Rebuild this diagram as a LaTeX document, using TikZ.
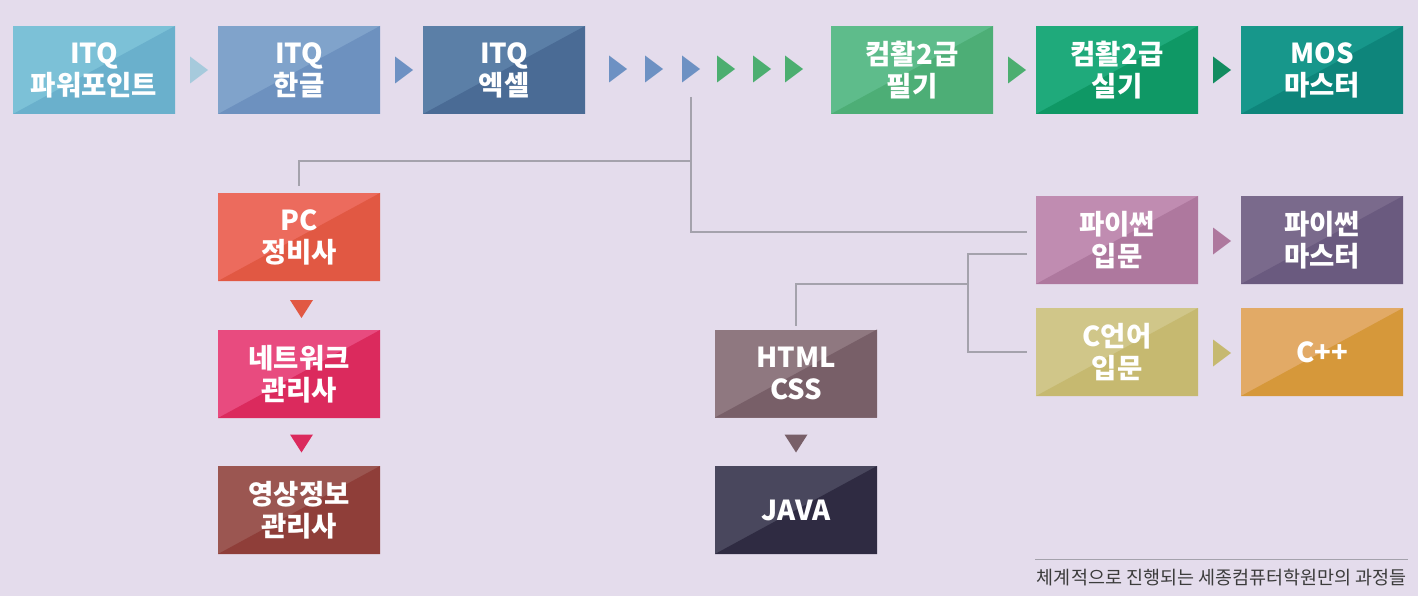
\documentclass[tikz,border=0pt]{standalone}
\usepackage{fontspec}
\setmainfont{Noto Sans CJK KR}
\usepackage{tikz}

\definecolor{bgpurple}{HTML}{E4DCEC}
\definecolor{linegray}{HTML}{A4A2AC}
\definecolor{notegray}{HTML}{3C3C3C}
% box colours (light / dark half)
\definecolor{pptA}{HTML}{7CC1D7}\definecolor{pptB}{HTML}{6AB0CC}
\definecolor{hwpA}{HTML}{80A3CB}\definecolor{hwpB}{HTML}{6D91BF}
\definecolor{xlsA}{HTML}{5B7FA7}\definecolor{xlsB}{HTML}{4A6B95}
\definecolor{cpaA}{HTML}{5EBC8B}\definecolor{cpaB}{HTML}{4DAE76}
\definecolor{cprA}{HTML}{1FAA7B}\definecolor{cprB}{HTML}{0F9865}
\definecolor{mosA}{HTML}{17978B}\definecolor{mosB}{HTML}{0E857B}
\definecolor{pcA}{HTML}{EC6B5D}\definecolor{pcB}{HTML}{E15843}
\definecolor{netA}{HTML}{E84B7F}\definecolor{netB}{HTML}{DB2A5D}
\definecolor{camA}{HTML}{9B5651}\definecolor{camB}{HTML}{8F3E39}
\definecolor{webA}{HTML}{8F7880}\definecolor{webB}{HTML}{785F68}
\definecolor{javA}{HTML}{49475D}\definecolor{javB}{HTML}{2F2B42}
\definecolor{pyaA}{HTML}{C08CB1}\definecolor{pyaB}{HTML}{AE789E}
\definecolor{pybA}{HTML}{7A6A8C}\definecolor{pybB}{HTML}{6A5A7F}
\definecolor{claA}{HTML}{D0C689}\definecolor{claB}{HTML}{C6B970}
\definecolor{cppA}{HTML}{E2AA66}\definecolor{cppB}{HTML}{D6983A}
% arrow tips
\definecolor{tripale}{HTML}{A6CADC}
\definecolor{triblue}{HTML}{6D91C3}
\definecolor{trigreen}{HTML}{4CAE70}
\definecolor{tridark}{HTML}{128C60}

\tikzset{
  course/.style 2 args={minimum width=162pt, minimum height=88pt, inner sep=0pt,
    outer sep=0pt, text=white, align=center,
    font=\bfseries\fontsize{27.5}{32}\selectfont,
    path picture={
      \fill[#1] (path picture bounding box.south west) rectangle (path picture bounding box.north east);
      \fill[#2] (path picture bounding box.south west) -- (path picture bounding box.north east)
        -- (path picture bounding box.south east) -- cycle;}},
  conn/.style={linegray, line width=1.2pt}
}

% right-pointing and down-pointing tips, centred at (#2,#3)
\newcommand{\rtip}[3]{\fill[#1] (#2-9,#3-13.5) -- (#2+9,#3) -- (#2-9,#3+13.5) -- cycle;}
\newcommand{\dtip}[3]{\fill[#1] (#2-11.5,#3-9) -- (#2+11.5,#3-9) -- (#2,#3+9) -- cycle;}

\begin{document}
\begin{tikzpicture}[x=1pt, y=-1pt]
    \fill[bgpurple] (0,0) rectangle (1418,596);
    \useasboundingbox (0,0) rectangle (1418,596);

    % top row
    \node[course={pptA}{pptB}] (itqppt) at (94,70) {ITQ\\파워포인트};
    \node[course={hwpA}{hwpB}] (itqhwp) at (299,70) {ITQ\\한글};
    \node[course={xlsA}{xlsB}] (itqxls) at (504,70) {ITQ\\엑셀};
    \node[course={cpaA}{cpaB}] (compa) at (912,70) {컴활2급\\필기};
    \node[course={cprA}{cprB}] (compb) at (1117,70) {컴활2급\\실기};
    \node[course={mosA}{mosB}] (mos) at (1322,70) {MOS\\마스터};

    \rtip{tripale}{199}{70}
    \rtip{triblue}{404}{70}
    \foreach \x/\c in {618/triblue,654/triblue,691/triblue,726/trigreen,762/trigreen,794/trigreen} {
      \rtip{\c}{\x}{69}
    }
    \rtip{trigreen}{1017}{70}
    \rtip{tridark}{1222}{70}

    % hardware branch
    \node[course={pcA}{pcB}] (pc) at (299,237) {PC\\정비사};
    \node[course={netA}{netB}] (net) at (299,374) {네트워크\\관리사};
    \node[course={camA}{camB}] (cctv) at (299,510) {영상정보\\관리사};
    \dtip{pcB}{301.5}{309}
    \dtip{netB}{301.5}{443.5}

    % web branch
    \node[course={webA}{webB}] (html) at (796,373.5) {HTML\\CSS};
    \node[course={javA}{javB}] (java) at (796,510) {JAVA};
    \dtip{webB}{796}{443.5}

    % programming branch
    \node[course={pyaA}{pyaB}] (pyin) at (1117,240) {파이썬\\입문};
    \node[course={pybA}{pybB}] (pymas) at (1322,240) {파이썬\\마스터};
    \node[course={claA}{claB}] (cin) at (1117,352) {C언어\\입문};
    \node[course={cppA}{cppB}] (cpp) at (1322,352) {C++};
    \rtip{pyaB}{1222}{241}
    \rtip{claB}{1222}{353}

    % connectors
    \coordinate (split) at (691,97);
    \coordinate (hub) at (691,161);
    \coordinate (fork) at (968,284);
    \draw[conn] (split) -- (hub) -| ([yshift=7pt]pc.north);
    \draw[conn] (hub) |- ([xshift=-9pt,yshift=8pt]pyin.west);
    \draw[conn] ([xshift=-9pt,yshift=-14pt]pyin.west) -| (fork) |- ([xshift=-9pt]cin.west);
    \draw[conn] (fork) -| ([yshift=4pt]html.north);

    % note
    \draw[conn, line width=1pt] (1035,559) -- (1408,559);
    \node[anchor=east, text=notegray, font=\fontsize{18.5}{22}\selectfont, inner sep=0pt] (note) at (1407,578) {체계적으로 진행되는 세종컴퓨터학원만의 과정들};
\end{tikzpicture}
\end{document}
